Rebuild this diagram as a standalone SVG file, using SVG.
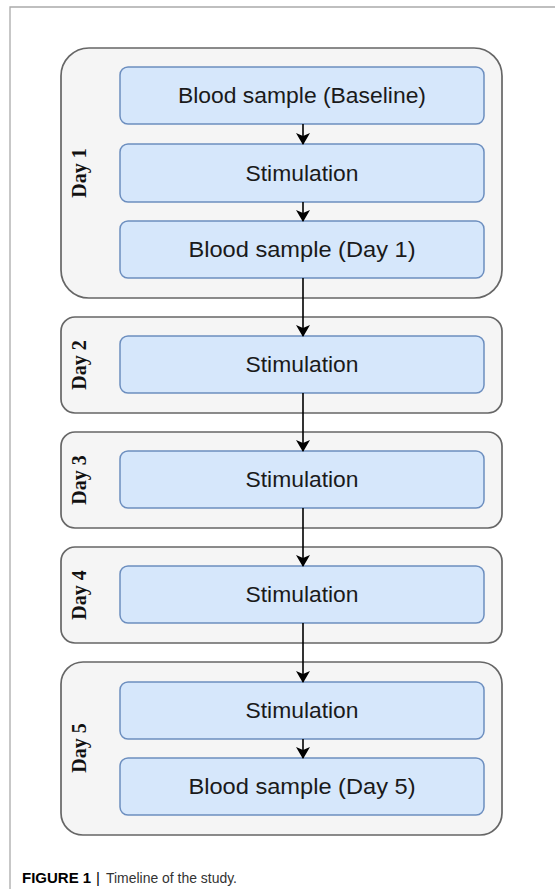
<svg xmlns="http://www.w3.org/2000/svg" width="555" height="889" viewBox="0 0 555 889">
<style>
.frame{fill:none;stroke:#aaaaaa;stroke-width:1.3}
.lane{fill:#f5f5f5;stroke:#666666;stroke-width:1.7}
.box{fill:#d6e7fb;stroke:#6c8ebf;stroke-width:1.5}
.t{font-family:"Liberation Sans",Arial,sans-serif;font-size:22px;fill:#1a1a1a;text-anchor:middle}
.day{font-family:"Liberation Serif","Times New Roman",serif;font-size:20px;font-weight:bold;fill:#111;text-anchor:middle}
.conn{fill:none;stroke:#000;stroke-width:1.6;marker-end:url(#ah)}
.cap{font-family:"Liberation Sans",Arial,sans-serif;font-size:15px;fill:#222}
</style>
<defs>
<marker id="ah" markerWidth="12" markerHeight="14" refX="11" refY="7" orient="auto" markerUnits="userSpaceOnUse">
<path d="M0,0 L12,7 L0,14 L3,7 Z" fill="#000"/>
</marker>
</defs>
<rect width="555" height="889" fill="#ffffff"/>
<path class="frame" d="M10,889 V7 H555"/>

<g id="day1">
<rect class="lane" x="61" y="48" width="441" height="250" rx="28"/>
<text class="day" transform="translate(86,173) rotate(-90)">Day 1</text>
</g>
<g id="day2">
<rect class="lane" x="61" y="317" width="441" height="96" rx="14"/>
<text class="day" transform="translate(86,365) rotate(-90)">Day 2</text>
</g>
<g id="day3">
<rect class="lane" x="61" y="432" width="441" height="96" rx="14"/>
<text class="day" transform="translate(86,480) rotate(-90)">Day 3</text>
</g>
<g id="day4">
<rect class="lane" x="61" y="547" width="441" height="96" rx="14"/>
<text class="day" transform="translate(86,595) rotate(-90)">Day 4</text>
</g>
<g id="day5">
<rect class="lane" x="61" y="662" width="441" height="173" rx="22"/>
<text class="day" transform="translate(86,748) rotate(-90)">Day 5</text>
</g>

<g id="d1-baseline">
<rect class="box" x="120" y="67" width="364" height="57" rx="8"/>
<text class="t" x="302" y="103" textLength="248" lengthAdjust="spacingAndGlyphs">Blood sample (Baseline)</text>
</g>
<g id="d1-stim">
<rect class="box" x="120" y="144" width="364" height="58" rx="8"/>
<text class="t" x="302" y="181" textLength="113" lengthAdjust="spacingAndGlyphs">Stimulation</text>
</g>
<g id="d1-blood">
<rect class="box" x="120" y="221" width="364" height="57" rx="8"/>
<text class="t" x="302" y="257" textLength="227" lengthAdjust="spacingAndGlyphs">Blood sample (Day 1)</text>
</g>
<g id="d2-stim">
<rect class="box" x="120" y="336" width="364" height="57" rx="8"/>
<text class="t" x="302" y="372" textLength="113" lengthAdjust="spacingAndGlyphs">Stimulation</text>
</g>
<g id="d3-stim">
<rect class="box" x="120" y="451" width="364" height="57" rx="8"/>
<text class="t" x="302" y="487" textLength="113" lengthAdjust="spacingAndGlyphs">Stimulation</text>
</g>
<g id="d4-stim">
<rect class="box" x="120" y="566" width="364" height="57" rx="8"/>
<text class="t" x="302" y="602" textLength="113" lengthAdjust="spacingAndGlyphs">Stimulation</text>
</g>
<g id="d5-stim">
<rect class="box" x="120" y="682" width="364" height="57" rx="8"/>
<text class="t" x="302" y="718" textLength="113" lengthAdjust="spacingAndGlyphs">Stimulation</text>
</g>
<g id="d5-blood">
<rect class="box" x="120" y="758" width="364" height="57" rx="8"/>
<text class="t" x="302" y="794" textLength="227" lengthAdjust="spacingAndGlyphs">Blood sample (Day 5)</text>
</g>

<g id="connectors">
<path class="conn" d="M303,124 V144"/>
<path class="conn" d="M303,202 V221"/>
<path class="conn" d="M303,278 V336"/>
<path class="conn" d="M303,393 V451"/>
<path class="conn" d="M303,508 V566"/>
<path class="conn" d="M303,623 V682"/>
<path class="conn" d="M303,739 V758"/>
</g>

<text class="cap" x="22" y="883"><tspan font-weight="bold" fill="#000">FIGURE 1</tspan><tspan x="96" fill="#000">|</tspan><tspan x="106" fill="#333" textLength="131" lengthAdjust="spacingAndGlyphs">Timeline of the study.</tspan></text>
</svg>
